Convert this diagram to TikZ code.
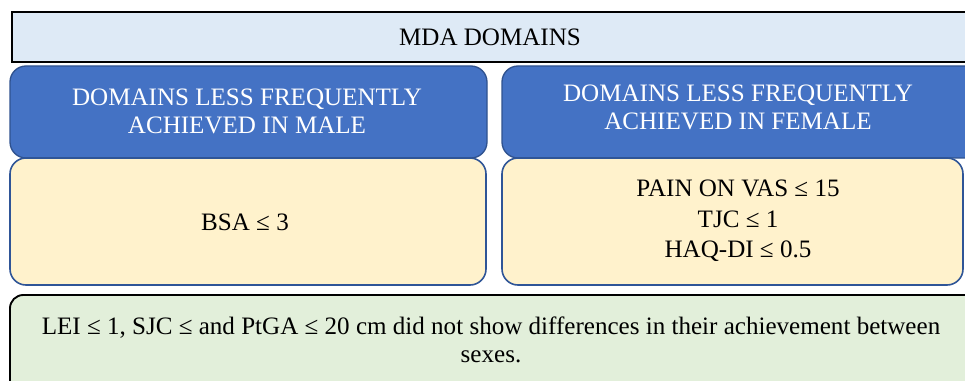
\documentclass[tikz,border=0pt]{standalone}
\usepackage{fontspec}
\setmainfont{Liberation Serif}
\definecolor{titlefill}{HTML}{DEEAF6}
\definecolor{bluefill}{HTML}{4472C4}
\definecolor{blueline}{HTML}{2F528F}
\definecolor{yelfill}{HTML}{FFF2CC}
\definecolor{yelline}{HTML}{2F5597}
\definecolor{greenfill}{HTML}{E2EFDA}
\begin{document}
\begin{tikzpicture}[x=0.75pt,y=-0.75pt,
  titlebox/.style={draw=black,line width=1.6pt,fill=titlefill},
  headbox/.style={draw=blueline,line width=1pt,fill=bluefill,rounded corners=12pt},
  bodybox/.style={draw=yelline,line width=1.2pt,fill=yelfill,rounded corners=12pt},
  notebox/.style={draw=black,line width=1.4pt,fill=greenfill,rounded corners=10pt},
  txt/.style={font=\fontsize{18.8pt}{21pt}\selectfont,align=center,inner sep=0pt}]
\useasboundingbox (0,0) rectangle (965,381);
\clip (0,0) rectangle (965,381);
\draw[titlebox] (12,12) rectangle (975,62);
\node[txt] (title) at (490,37) {MDA DOMAINS};
\draw[headbox] (10,66) rectangle (487,158);
\draw[headbox] (502,66) rectangle (985,158);
\draw[bodybox] (10,158) rectangle (486,285);
\draw[bodybox] (502,158) rectangle (963,285);
\draw[notebox] (10,295) rectangle (985,400);
\node[txt,text=white] (male) at (247,111) {DOMAINS LESS FREQUENTLY\\ACHIEVED IN MALE};
\node[txt,text=white] (female) at (738,107) {DOMAINS LESS FREQUENTLY\\ACHIEVED IN FEMALE};
\node[txt] (bsa) at (245,222) {BSA ≤ 3};
\node[txt,font=\fontsize{18.8pt}{23pt}\selectfont] (fem) at (738,221) {PAIN ON VAS ≤ 15\\TJC ≤ 1\\HAQ-DI ≤ 0.5};
\node[txt] (note) at (491,340) {LEI ≤ 1, SJC ≤ and PtGA ≤ 20 cm did not show differences in their achievement between\\sexes.};
\end{tikzpicture}
\end{document}
